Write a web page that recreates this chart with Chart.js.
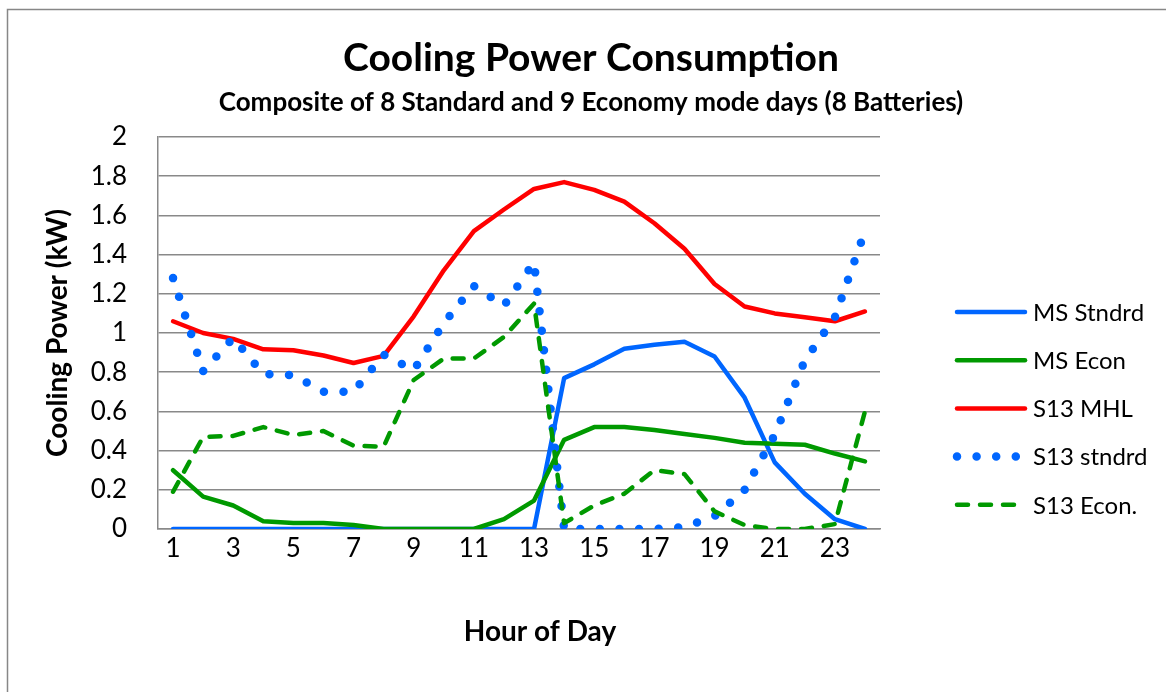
<!DOCTYPE html>
<html>
<head>
<meta charset="utf-8">
<script src="https://cdn.jsdelivr.net/npm/chart.js@4"></script>
<style>
  html, body { margin: 0; padding: 0; background: #fff; }
  #wrap { width: 1166px; height: 692px; position: relative; }
</style>
</head>
<body>
<div id="wrap"><canvas id="coolingChart"></canvas></div>
<script>
// hours of the day (category axis)
const hours = ['1', '2', '3', '4', '5', '6', '7', '8', '9', '10', '11', '12',
               '13', '14', '15', '16', '17', '18', '19', '20', '21', '22', '23', '24'];

// cooling power in kW
const msStndrd  = [0, 0, 0, 0, 0, 0, 0, 0, 0, 0, 0, 0,
                   0, 0.77, 0.84, 0.92, 0.94, 0.955, 0.88, 0.67, 0.34, 0.18, 0.05, 0];
const msEcon    = [0.30, 0.165, 0.12, 0.04, 0.03, 0.03, 0.02, 0, 0, 0, 0, 0.05,
                   0.145, 0.455, 0.52, 0.52, 0.505, 0.485, 0.465, 0.44, 0.435, 0.43, 0.385, 0.345];
const s13Mhl    = [1.06, 1.00, 0.97, 0.917, 0.912, 0.885, 0.847, 0.883, 1.085, 1.32, 1.52, 1.63,
                   1.735, 1.77, 1.73, 1.67, 1.56, 1.43, 1.25, 1.135, 1.10, 1.08, 1.06, 1.11];
const s13Stndrd = [1.28, 0.805, 0.975, 0.79, 0.785, 0.70, 0.70, 0.89, 0.81, 1.05, 1.24, 1.14,
                   1.36, 0, 0, 0, 0, 0.01, 0.065, 0.20, 0.48, 0.86, 1.08, 1.52];
const s13Econ   = [0.19, 0.47, 0.475, 0.52, 0.48, 0.50, 0.425, 0.42, 0.76, 0.87, 0.87, 0.98,
                   1.15, 0.03, 0.12, 0.18, 0.30, 0.28, 0.09, 0.02, 0, 0, 0.025, 0.60];

const seriesNames = ['MS Stndrd', 'MS Econ', 'S13 MHL', 'S13 stndrd', 'S13 Econ.'];

const BLUE = '#0066ff';
const GREEN = '#009900';
const RED = '#ff0000';
const GRID = '#898989';
const FONT = 'Lato, "Open Sans", sans-serif';

Chart.defaults.font.family = FONT;
Chart.defaults.color = '#000';

// outer chart frame, like the office chart border
const framePlugin = {
    id: 'frame',
    beforeDraw(chart) {
        const ctx = chart.ctx;
        ctx.save();
        ctx.fillStyle = '#fff';
        ctx.fillRect(0, 0, chart.width, chart.height);
        ctx.strokeStyle = '#878787';
        ctx.lineWidth = 1.5;
        ctx.strokeRect(7.5, 9.5, chart.width + 20, chart.height + 20);
        ctx.restore();
    }
};

// legend on the right, drawn with each dataset's own line style
const sideLegend = {
    id: 'sideLegend',
    afterDraw(chart) {
        const ctx = chart.ctx;
        const x0 = 957, x1 = 1025, textX = 1033;
        let y = 312;
        chart.data.datasets.forEach(ds => {
            ctx.save();
            ctx.strokeStyle = ds.borderColor;
            ctx.lineWidth = ds.borderWidth;
            ctx.lineCap = ds.borderCapStyle || 'round';
            ctx.setLineDash(ds.borderDash || []);
            ctx.beginPath();
            ctx.moveTo(x0, y);
            ctx.lineTo(x1, y);
            ctx.stroke();
            ctx.setLineDash([]);
            ctx.fillStyle = '#000';
            ctx.font = '24px ' + FONT;
            ctx.textBaseline = 'middle';
            ctx.textAlign = 'left';
            ctx.fillText(ds.label, textX, y + 1);
            ctx.restore();
            y += 48.2;
        });
    }
};

const ctx = document.getElementById('coolingChart').getContext('2d');
new Chart(ctx, {
    type: 'line',
    data: {
        labels: hours,
        datasets: [
            { label: seriesNames[0], data: msStndrd, borderColor: BLUE, borderWidth: 4.5, order: 5 },
            { label: seriesNames[1], data: msEcon, borderColor: GREEN, borderWidth: 4.5, order: 4 },
            { label: seriesNames[2], data: s13Mhl, borderColor: RED, borderWidth: 4.5, order: 3 },
            { label: seriesNames[3], data: s13Stndrd, borderColor: BLUE, borderWidth: 8.5,
              borderDash: [0, 19.6], borderCapStyle: 'round', order: 2 },
            { label: seriesNames[4], data: s13Econ, borderColor: GREEN, borderWidth: 4.5,
              borderDash: [11, 12], borderCapStyle: 'round', order: 1 }
        ]
    },
    options: {
        responsive: true,
        maintainAspectRatio: false,
        animation: false,
        elements: {
            point: { radius: 0, hoverRadius: 0 },
            line: { tension: 0, borderJoinStyle: 'round', borderCapStyle: 'round', fill: false }
        },
        layout: { padding: { left: 16, right: 0, top: 0, bottom: 0 } },
        plugins: {
            legend: { display: false },
            tooltip: { enabled: false },
            title: {
                display: true,
                text: 'Cooling Power Consumption',
                font: { size: 39, weight: 'bold' },
                padding: { top: 35, bottom: 0 }
            },
            subtitle: {
                display: true,
                text: 'Composite of 8 Standard and 9 Economy mode days (8 Batteries)',
                font: { size: 26, weight: 'bold' },
                padding: { top: 5, bottom: 19 }
            }
        },
        scales: {
            x: {
                type: 'category',
                offset: true,
                grid: { display: false, drawTicks: false },
                border: { display: true, color: GRID, width: 1.5 },
                ticks: {
                    autoSkip: false,
                    maxRotation: 0,
                    padding: 4,
                    font: { size: 26 },
                    callback: function(value, index) {
                        return index % 2 === 0 ? this.getLabelForValue(value) : '';
                    }
                },
                title: {
                    display: true,
                    // the original title sits a little right of the plot centre
                    text: '\u2003\u2003Hour of Day',
                    font: { size: 28, weight: 'bold' },
                    padding: { top: 0, bottom: 43 }
                },
                afterFit(scale) { scale.height = 163; }
            },
            y: {
                min: 0,
                max: 2,
                grid: { color: GRID, lineWidth: 1.5, drawTicks: false },
                border: { display: true, color: GRID, width: 1.5 },
                ticks: {
                    stepSize: 0.2,
                    padding: 31,
                    font: { size: 26 },
                    callback: value => String(Number(value.toFixed(1)))
                },
                title: {
                    display: true,
                    text: 'Cooling Power (kW)',
                    font: { size: 28, weight: 'bold' },
                    padding: { top: 25, bottom: 0 }
                },
                afterFit(scale) { scale.width = 142; }
            },
            // empty right-hand axis keeps room for the legend
            legendSpace: {
                type: 'linear',
                position: 'right',
                display: true,
                grid: { display: false, drawTicks: false },
                border: { display: false },
                ticks: { display: false },
                afterFit(scale) { scale.width = 286; }
            }
        }
    },
    plugins: [framePlugin, sideLegend]
});
</script>
</body>
</html>
